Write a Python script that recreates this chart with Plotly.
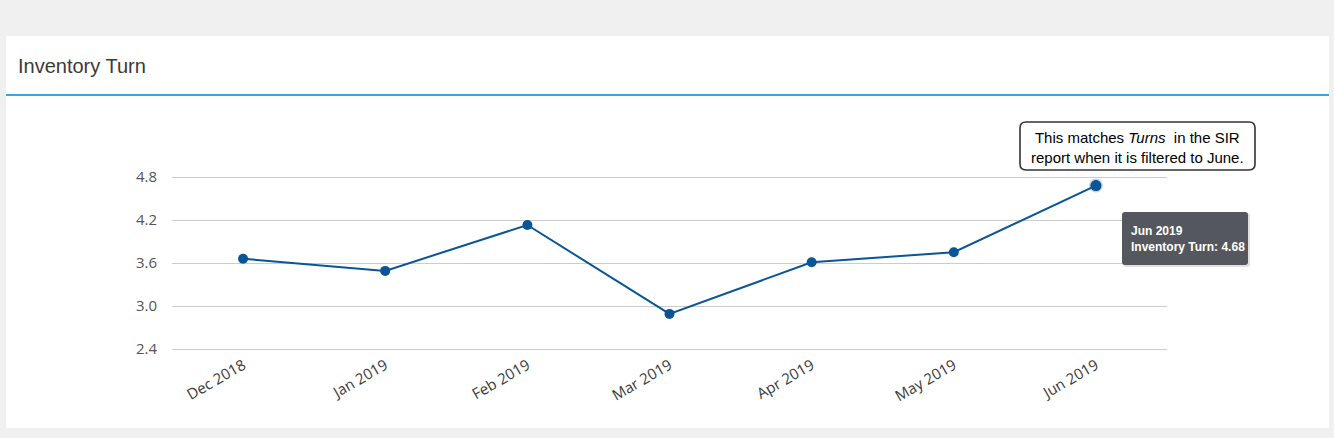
import plotly.graph_objects as go

months = ["Dec 2018", "Jan 2019", "Feb 2019", "Mar 2019", "Apr 2019", "May 2019", "Jun 2019"]
turns = [3.66, 3.49, 4.13, 2.89, 3.61, 3.75, 4.68]
y_ticks = [2.4, 3.0, 3.6, 4.2, 4.8]

W, H = 1334, 438
# pixel positions of the 2.4 / 4.8 gridlines and plot's horizontal extent
GX0, GX1, G_TOP, G_BOT = 172, 1167, 177, 349
Y_LO, Y_HI = 2.4, 4.8
ppu = (G_BOT - G_TOP) / (Y_HI - Y_LO)
EXT_PX = 4
EXT = EXT_PX / ppu
T = G_TOP - EXT_PX
B = G_BOT + EXT_PX
L, R = GX0, GX1

def px(x):
    return (x - L) / (R - L)

def py(y):
    return (B - y) / (B - T)

line_color = "#0a5596"

fig = go.Figure()
fig.add_trace(go.Scatter(
    x=months, y=turns, mode="lines+markers",
    line=dict(color=line_color, width=2),
    marker=dict(color=line_color, size=10),
    hoverinfo="skip", showlegend=False,
))
# highlighted (hovered) last point
fig.add_trace(go.Scatter(
    x=[months[-1]], y=[turns[-1]], mode="markers",
    marker=dict(color=line_color, size=11, line=dict(color="rgba(10,85,150,0.25)", width=3)),
    hoverinfo="skip", showlegend=False,
))

def rounded_rect(x0, y0, x1, y1, r):
    pts = [
        f"M {px(x0 + r)},{py(y0)}",
        f"L {px(x1 - r)},{py(y0)}",
        f"Q {px(x1)},{py(y0)} {px(x1)},{py(y0 + r)}",
        f"L {px(x1)},{py(y1 - r)}",
        f"Q {px(x1)},{py(y1)} {px(x1 - r)},{py(y1)}",
        f"L {px(x0 + r)},{py(y1)}",
        f"Q {px(x0)},{py(y1)} {px(x0)},{py(y1 - r)}",
        f"L {px(x0)},{py(y0 + r)}",
        f"Q {px(x0)},{py(y0)} {px(x0 + r)},{py(y0)}",
        "Z",
    ]
    return " ".join(pts)

shapes = [
    # white card
    dict(type="rect", xref="paper", yref="paper", x0=px(6), x1=px(1329), y0=py(428), y1=py(36),
         fillcolor="white", line=dict(width=0), layer="below"),
    # blue header rule
    dict(type="line", xref="paper", yref="paper", x0=px(6), x1=px(1329), y0=py(95), y1=py(95),
         line=dict(color="#35a5e6", width=2), layer="below"),
    # callout box with rounded corners
    dict(type="path", xref="paper", yref="paper", path=rounded_rect(1020, 122, 1255, 170, 6),
         fillcolor="white", line=dict(color="#333333", width=1.6), layer="above"),
    # tooltip shadow + box
    dict(type="path", xref="paper", yref="paper", path=rounded_rect(1123, 213, 1250, 267, 3),
         fillcolor="rgba(0,0,0,0.12)", line=dict(width=0), layer="above"),
    dict(type="path", xref="paper", yref="paper", path=rounded_rect(1122, 212, 1248, 265, 3),
         fillcolor="#54575e", line=dict(width=0), layer="above"),
]

annotations = [
    dict(text="Inventory Turn", xref="paper", yref="paper", x=px(16), y=py(66),
         xanchor="left", yanchor="middle", showarrow=False,
         font=dict(family="Arial, Liberation Sans", size=20, color="#3a3a3a")),
    dict(text="This matches <i>Turns</i>  in the SIR<br>report when it is filtered to June.",
         xref="paper", yref="paper", x=px(1137.5), y=py(147), xanchor="center", yanchor="middle",
         showarrow=False, align="center",
         font=dict(family="Arial, Liberation Sans", size=15, color="#000000")),
    dict(text="<b>Jun 2019</b><br><b>Inventory Turn: %.2f</b>" % turns[-1],
         xref="paper", yref="paper", x=px(1130), y=py(239), xanchor="left", yanchor="middle",
         showarrow=False, align="left", borderpad=0,
         font=dict(family="Arial, Liberation Sans", size=12, color="white")),
]

fig.update_layout(
    width=W, height=H,
    margin=dict(l=L, r=W - R, t=T, b=H - B, pad=0),
    paper_bgcolor="#f0f0f0", plot_bgcolor="rgba(0,0,0,0)",
    shapes=shapes, annotations=annotations,
    xaxis=dict(type="category", range=[-0.5, len(months) - 0.5], showgrid=False, zeroline=False,
               showline=False, ticks="", tickangle=-30,
               tickfont=dict(family="Open Sans", size=15, color="#3a3a3a")),
    yaxis=dict(range=[Y_LO - EXT, Y_HI + EXT], tickvals=y_ticks,
               ticktext=["%.1f" % v for v in y_ticks],
               showgrid=True, gridcolor="#cccccc", gridwidth=1, zeroline=False, showline=False,
               ticks="", ticklabelstandoff=14,
               tickfont=dict(family="Open Sans", size=15, color="#555555")),
)

fig.write_html("out.html")
